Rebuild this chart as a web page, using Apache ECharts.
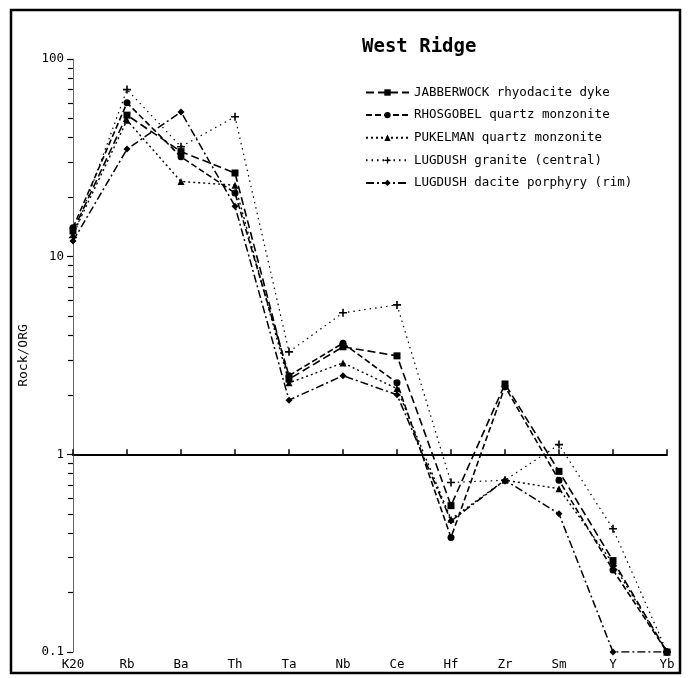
<!DOCTYPE html>
<html>
<head>
<meta charset="utf-8">
<script src="https://cdn.jsdelivr.net/npm/echarts@6/dist/echarts.min.js"></script>
<style>
  html, body { margin: 0; padding: 0; background: #fff; }
  #chart { width: 690px; height: 678px; }
</style>
</head>
<body>
<div id="chart"></div>
<script>
// Element order along the x axis
var elements = ['K20', 'Rb', 'Ba', 'Th', 'Ta', 'Nb', 'Ce', 'Hf', 'Zr', 'Sm', 'Y', 'Yb'];

// Normalised concentrations (Rock / ORG)
var jabberwock = [13.5, 52, 34, 26.5, 2.4, 3.5, 3.15, 0.55, 2.27, 0.82, 0.29, 0.1];
var rhosgobel  = [14, 60, 32, 21, 2.5, 3.65, 2.3, 0.38, 2.2, 0.74, 0.26, 0.1];
var pukelman   = [13, 49, 24, 23, 2.3, 2.9, 2.15, 0.47, 0.74, 0.67, 0.28, 0.1];
var lugdushGranite = [12.5, 70, 36, 51, 3.3, 5.2, 5.7, 0.72, 0.74, 1.12, 0.42, 0.1];
var lugdushDacite  = [12, 35, 54, 18, 1.88, 2.5, 2.0, 0.46, 0.74, 0.5, 0.1, 0.1];

var seriesNames = [
  'JABBERWOCK rhyodacite dyke',
  'RHOSGOBEL quartz monzonite',
  'PUKELMAN quartz monzonite',
  'LUGDUSH granite (central)',
  'LUGDUSH dacite porphyry (rim)'
];

// Minor log ticks between the decades
var minorTickValues = [0.2, 0.3, 0.4, 0.5, 0.6, 0.7, 0.8, 0.9,
                       2, 3, 4, 5, 6, 7, 8, 9,
                       20, 30, 40, 50, 60, 70, 80, 90];

var FONT = 'DejaVu Sans Mono';
var plusPath = 'path://M4,0H6V4H10V6H6V10H4V6H0V4H4Z';

function makeSeries(name, data, symbol, size, dash, width) {
  return {
    name: name,
    type: 'line',
    data: data,
    symbol: symbol,
    symbolSize: size,
    showSymbol: true,
    itemStyle: { color: '#000' },
    lineStyle: { color: '#000', width: width, type: dash },
    emphasis: { disabled: true },
    animation: false,
    z: 3
  };
}

var series = [
  makeSeries(seriesNames[0], jabberwock, 'rect', 7, [8, 4], 1.6),
  makeSeries(seriesNames[1], rhosgobel, 'circle', 7, [6, 3], 1.6),
  makeSeries(seriesNames[2], pukelman, 'triangle', 7, [2, 3], 1.4),
  makeSeries(seriesNames[3], lugdushGranite, plusPath, 8, [1.5, 4], 1.2),
  makeSeries(seriesNames[4], lugdushDacite, 'diamond', 7, [8, 3, 2, 3], 1.5)
];

// Reference line at Rock/ORG = 1
series[0].markLine = {
  silent: true,
  symbol: 'none',
  label: { show: false },
  lineStyle: { color: '#000', width: 1.5, type: 'solid' },
  data: [{ yAxis: 1 }],
  animation: false
};

var chart = echarts.init(document.getElementById('chart'), null, { renderer: 'canvas' });

chart.setOption({
  backgroundColor: '#fff',
  animation: false,
  title: {
    text: 'West Ridge',
    left: 362,
    top: 38,
    padding: 0,
    textStyle: { fontFamily: FONT, fontSize: 19, fontWeight: 'bold', color: '#000' }
  },
  legend: {
    orient: 'vertical',
    left: 365,
    top: 86,
    padding: 0,
    itemWidth: 43,
    itemHeight: 8,
    itemGap: 9.6,
    selectedMode: false,
    textStyle: { fontFamily: FONT, fontSize: 12.5, color: '#000' },
    data: seriesNames
  },
  grid: { left: 73, right: 23, top: 59, bottom: 26, containLabel: false },
  xAxis: {
    type: 'category',
    data: elements,
    boundaryGap: false,
    axisLine: { lineStyle: { color: '#000', width: 2 } },
    axisTick: { alignWithLabel: true, inside: true, length: 5, lineStyle: { color: '#000', width: 1.5 } },
    axisLabel: { fontFamily: FONT, fontSize: 12.5, color: '#000', margin: 6, interval: 0 },
    splitLine: { show: false }
  },
  yAxis: [
    {
      type: 'log',
      logBase: 10,
      min: 0.1,
      max: 100,
      name: 'Rock/ORG',
      nameLocation: 'middle',
      nameRotate: 90,
      nameGap: 38,
      nameTextStyle: { fontFamily: FONT, fontSize: 13, color: '#000' },
      axisLine: { show: true, lineStyle: { color: '#666', width: 1 } },
      axisTick: { show: true, inside: false, length: 6, lineStyle: { color: '#000', width: 1.2 } },
      axisLabel: {
        fontFamily: FONT, fontSize: 12.5, color: '#000', margin: 9,
        formatter: function (v) { return String(v); }
      },
      splitLine: { show: false }
    },
    {
      // minor ticks, raw values on a log scale
      type: 'log',
      logBase: 10,
      min: 0.1,
      max: 100,
      position: 'left',
      offset: 0,
      axisLine: { show: false },
      axisLabel: { show: false },
      splitLine: { show: false },
      axisTick: {
        show: true,
        inside: false,
        length: 5,
        customValues: minorTickValues,
        lineStyle: { color: '#000', width: 1.2 }
      }
    },
    {
      // linear log10 companion axis, kept invisible
      type: 'value',
      min: -1,
      max: 2,
      position: 'left',
      offset: 0,
      axisLine: { show: false },
      axisLabel: { show: false },
      splitLine: { show: false },
      axisTick: {
        show: true,
        inside: true,
        length: 9,
        customValues: minorTickValues.map(function (v) { return Math.log10(v); }),
        lineStyle: { color: 'rgba(0,0,0,0)', width: 1.2 }
      }
    }
  ],
  graphic: [
    {
      type: 'rect',
      shape: { x: 11, y: 10, width: 669, height: 663 },
      style: { fill: null, stroke: '#000', lineWidth: 2.5 },
      silent: true,
      z: 10
    }
  ],
  series: series
});
</script>
</body>
</html>
